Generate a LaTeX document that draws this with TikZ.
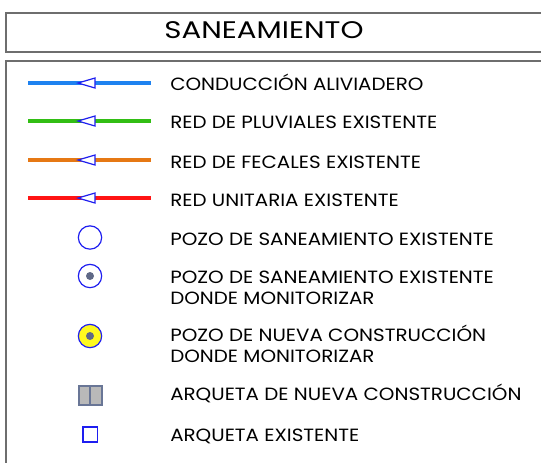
\documentclass[tikz,border=0pt]{standalone}
\usepackage{fontspec}
\setmainfont{Poppins}[FakeStretch=1.12]
\newfontfamily\titlefont{Poppins}[FakeStretch=1.22]
\definecolor{boxgray}{RGB}{110,110,110}
\definecolor{cblue}{RGB}{30,130,240}
\definecolor{cgreen}{RGB}{50,190,20}
\definecolor{corange}{RGB}{230,120,20}
\definecolor{cred}{RGB}{255,20,20}
\definecolor{mark}{RGB}{30,30,240}
\definecolor{dotc}{RGB}{95,105,135}
\definecolor{slate}{RGB}{105,118,150}
\definecolor{lgray}{RGB}{185,185,185}
\definecolor{yel}{RGB}{255,250,30}
\tikzset{
  frame/.style={draw=boxgray,line width=1.3pt},
  pipe/.style={line width=2.8pt},
  tri/.style={draw=mark,fill=white,line width=0.9pt,line join=miter},
  lbl/.style={anchor=base west,inner sep=0pt,align=left,font=\fontsize{13.3}{15.4}\selectfont},
  pozo/.style={circle,draw=mark,line width=0.9pt,minimum size=17.5pt,inner sep=0pt},
  dotm/.style={circle,fill=dotc,minimum size=6pt,inner sep=0pt},
}
\begin{document}
\begin{tikzpicture}[x=0.75pt,y=-0.75pt]
\useasboundingbox (0,0) rectangle (541,462);
\clip (0,0) rectangle (541,462);
% frames
\draw[frame] (6,13) rectangle (560,52);
\node[anchor=base,inner sep=0pt,font=\titlefont\fontsize{18}{20}\selectfont] (title) at (264,38.3) {SANEAMIENTO};
\draw[frame] (560,61) -- (6,61) -- (6,480);
% pipes
\foreach \y/\c/\n in {83/cblue/a,121/cgreen/b,160/corange/c,198/cred/d}{
  \coordinate (\n0) at (28,\y);
  \coordinate (\n1) at (151,\y);
  \draw[pipe,\c] (\n0) -- (\n1);
  \draw[tri] (78,\y) -- (95,\y-5) -- (95,\y+5) -- cycle;
}
\node[lbl] (ta) at (170,90.5) {CONDUCCIÓN ALIVIADERO};
\node[lbl] (tb) at (170,128.5) {RED DE PLUVIALES EXISTENTE};
\node[lbl] (tc) at (170,168) {RED DE FECALES EXISTENTE};
\node[lbl] (td) at (170,206.5) {RED UNITARIA EXISTENTE};
% pozos
\node[pozo] (p1) at (90,237.5) {};
\node[lbl] (t1) at (170,245.7) {POZO DE SANEAMIENTO EXISTENTE};
\node[pozo] (p2) at (90,276) {};
\node[dotm] (p2d) at (90,276) {};
\node[lbl] (t2) at (170,304) {POZO DE SANEAMIENTO EXISTENTE\\DONDE MONITORIZAR};
\node[pozo,fill=yel] (p3) at (90,336) {};
\node[dotm] (p3d) at (90,336) {};
\node[lbl] (t3) at (170,362.3) {POZO DE NUEVA CONSTRUCCIÓN\\DONDE MONITORIZAR};
% arquetas
\draw[draw=slate,fill=lgray,line width=1.5pt] (78.5,386) rectangle (102,405);
\draw[draw=slate,line width=1.5pt] (90.3,386) -- (90.3,405);
\node[lbl] (t4) at (170,400.7) {ARQUETA DE NUEVA CONSTRUCCIÓN};
\draw[draw=mark,line width=0.9pt] (83,427) rectangle (97.5,442);
\node[lbl] (t5) at (170,441.7) {ARQUETA EXISTENTE};
\end{tikzpicture}
\end{document}
